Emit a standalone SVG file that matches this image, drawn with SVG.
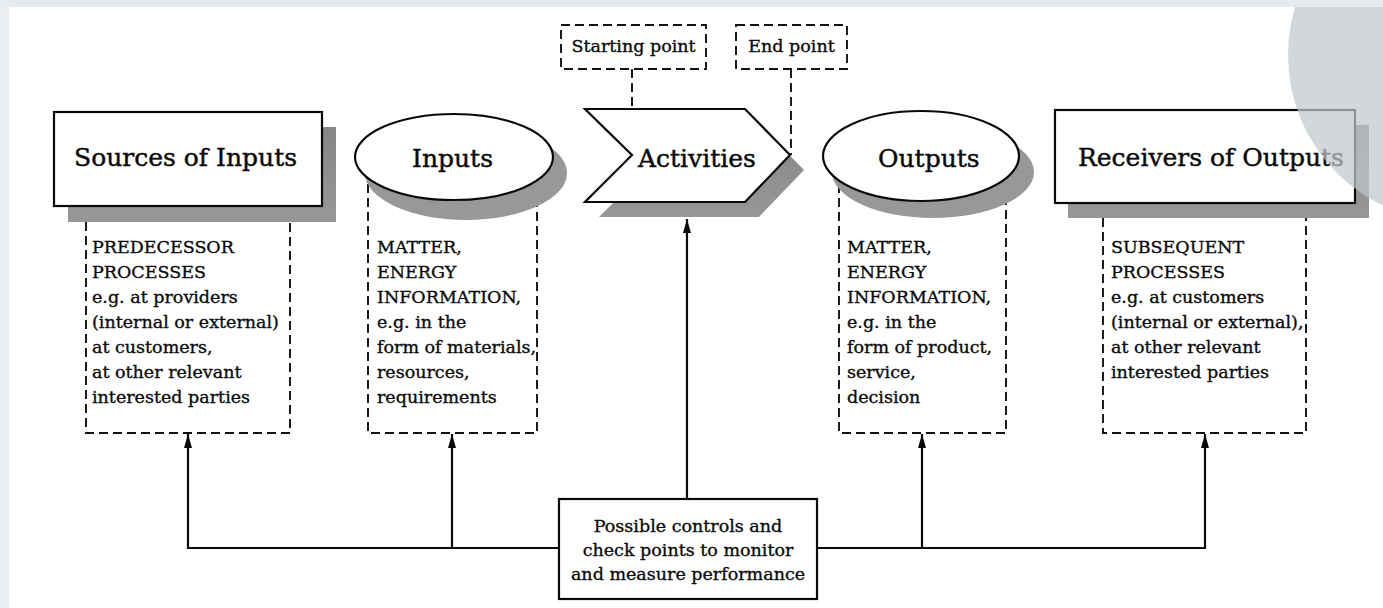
<svg xmlns="http://www.w3.org/2000/svg" width="1383" height="608" viewBox="0 0 1383 608">
<defs>
<style>
.t{font-family:"DejaVu Serif","Liberation Serif",serif;fill:#0a0a0a;stroke:#0a0a0a;stroke-width:0.35}
.title{font-size:25px;stroke-width:0.45}
.body{font-size:17.5px}
.mid{text-anchor:middle}
.node{fill:#fff;stroke:#0a0a0a;stroke-width:2.2}
.shadow{fill:url(#sh)}
.eshadow{fill:#989898}
.dash{fill:none;stroke:#111;stroke-width:1.9;stroke-dasharray:9 5}
.conn{fill:none;stroke:#0a0a0a;stroke-width:2.2}
</style>
<linearGradient id="sh" x1="0" y1="0" x2="0" y2="1">
<stop offset="0" stop-color="#868686"/>
<stop offset="1" stop-color="#979797"/>
</linearGradient>
<marker id="arr" viewBox="0 0 14 8" refX="14" refY="4" markerWidth="14" markerHeight="8" markerUnits="userSpaceOnUse" orient="auto">
<path d="M0,0 L14,4 L0,8 z" fill="#0a0a0a"/>
</marker>
</defs>

<rect x="0" y="0" width="1383" height="608" fill="#fff"/>

<g id="connectors">
<path class="conn" d="M559,548 H188 V434" marker-end="url(#arr)"/>
<path class="conn" d="M452,548 V434" marker-end="url(#arr)"/>
<path class="conn" d="M817,548 H1205 V434" marker-end="url(#arr)"/>
<path class="conn" d="M922,548 V434" marker-end="url(#arr)"/>
<path class="conn" d="M687,499 V219" marker-end="url(#arr)"/>
<path class="dash" d="M632,69 V155"/>
<path class="dash" d="M791,69 V155"/>
</g>

<g id="sources">
<path class="dash" d="M86,222 V433 H290 V222"/>
<rect class="shadow" x="68" y="127" width="268" height="95"/>
<rect class="node" x="54" y="112" width="268" height="94"/>
<text class="t title" x="74" y="166">Sources of Inputs</text>
<text class="t body" x="92" y="253">PREDECESSOR</text>
<text class="t body" x="92" y="278">PROCESSES</text>
<text class="t body" x="92" y="303">e.g. at providers</text>
<text class="t body" x="92" y="328">(internal or external)</text>
<text class="t body" x="92" y="353">at customers,</text>
<text class="t body" x="92" y="378">at other relevant</text>
<text class="t body" x="92" y="403">interested parties</text>
</g>

<g id="inputs">
<path class="dash" d="M368,170 V433 H537 V200"/>
<ellipse class="eshadow" cx="466" cy="173" rx="101" ry="47"/>
<ellipse class="node" cx="454" cy="157" rx="99" ry="43"/>
<text class="t title" x="412" y="167">Inputs</text>
<text class="t body" x="377" y="253">MATTER,</text>
<text class="t body" x="377" y="278">ENERGY</text>
<text class="t body" x="377" y="303">INFORMATION,</text>
<text class="t body" x="377" y="328">e.g. in the</text>
<text class="t body" x="377" y="353">form of materials,</text>
<text class="t body" x="377" y="378">resources,</text>
<text class="t body" x="377" y="403">requirements</text>
</g>

<g id="activities">
<polygon class="shadow" points="599,124 759,124 804,170 759,217 599,217 646,170"/>
<polygon class="node" points="585,109 745,109 790,155 745,202 585,202 632,155"/>
<text class="t title" x="638" y="167">Activities</text>
</g>

<g id="starting-point">
<rect class="dash" x="561" y="25" width="145" height="44"/>
<text class="t body mid" x="633.5" y="52">Starting point</text>
</g>

<g id="end-point">
<rect class="dash" x="736" y="25" width="111" height="44"/>
<text class="t body mid" x="791.5" y="52">End point</text>
</g>

<g id="outputs">
<path class="dash" d="M839,170 V433 H1006 V200"/>
<ellipse class="eshadow" cx="933" cy="172" rx="101" ry="46"/>
<ellipse class="node" cx="921" cy="156" rx="98" ry="45"/>
<text class="t title" x="878" y="167">Outputs</text>
<text class="t body" x="847" y="253">MATTER,</text>
<text class="t body" x="847" y="278">ENERGY</text>
<text class="t body" x="847" y="303">INFORMATION,</text>
<text class="t body" x="847" y="328">e.g. in the</text>
<text class="t body" x="847" y="353">form of product,</text>
<text class="t body" x="847" y="378">service,</text>
<text class="t body" x="847" y="403">decision</text>
</g>

<g id="receivers">
<path class="dash" d="M1103,218 V433 H1306 V218"/>
<rect class="shadow" x="1068" y="125" width="301" height="93"/>
<rect class="node" x="1055" y="110" width="300" height="93"/>
<text class="t title" x="1078" y="166">Receivers of Outputs</text>
<text class="t body" x="1111" y="253">SUBSEQUENT</text>
<text class="t body" x="1111" y="278">PROCESSES</text>
<text class="t body" x="1111" y="303">e.g. at customers</text>
<text class="t body" x="1111" y="328">(internal or external),</text>
<text class="t body" x="1111" y="353">at other relevant</text>
<text class="t body" x="1111" y="378">interested parties</text>
</g>

<g id="controls">
<rect class="node" x="559" y="499" width="258" height="100"/>
<text class="t body mid" x="688" y="532">Possible controls and</text>
<text class="t body mid" x="688" y="556">check points to monitor</text>
<text class="t body mid" x="688" y="580">and measure performance</text>
</g>

<circle cx="1455" cy="55" r="167" fill="#c2c7cb" fill-opacity="0.72"/>
<rect x="0" y="0" width="9" height="608" fill="#edf0f3"/>
<rect x="0" y="0" width="1383" height="7" fill="#e8ebee"/>
</svg>
